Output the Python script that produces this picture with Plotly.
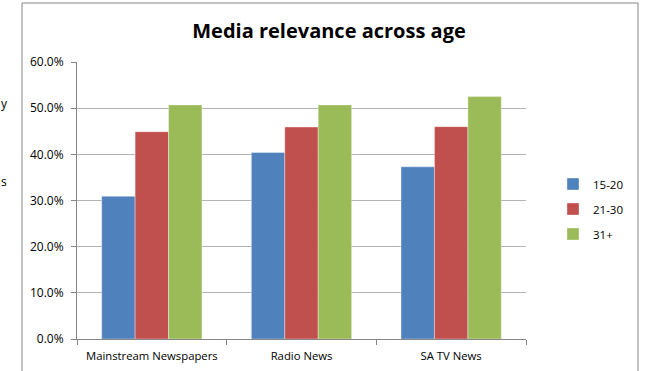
import plotly.graph_objects as go

categories = ["Mainstream Newspapers", "Radio News", "SA TV News"]
series_names = ["15-20", "21-30", "31+"]
values_15_20 = [0.309, 0.404, 0.373]
values_21_30 = [0.449, 0.459, 0.460]
values_31_plus = [0.507, 0.507, 0.525]
colors = ["#4F81BD", "#C0504D", "#9BBB59"]
y_ticks = [0, 0.1, 0.2, 0.3, 0.4, 0.5, 0.6]

W, H = 645, 371
L, R, T, B = 77, 526, 62, 339  # plot area pixels
pw, ph = R - L, B - T

def px_x(x):
    return (x - L) / pw

def px_y(y):
    return (B - y) / ph

FONT = "Open Sans"

fig = go.Figure()
for name, vals, col in zip(series_names, [values_15_20, values_21_30, values_31_plus], colors):
    fig.add_trace(go.Bar(
        x=categories, y=vals, name=name, legendgroup=name,
        marker=dict(color=col, line=dict(color="rgba(255,255,255,0.45)", width=0.8)),
    ))

fig.update_layout(
    width=W, height=H,
    margin=dict(l=L, r=W - R, t=T, b=H - B, pad=0, autoexpand=False),
    paper_bgcolor="white", plot_bgcolor="white",
    barmode="group", bargap=0.33, bargroupgap=0,
    font=dict(family=FONT, size=11, color="#000000"),
    title=dict(text="<b>Media relevance across age</b>", x=px_x(329), xref="paper",
               xanchor="center", y=1 - 31 / H, yref="container", yanchor="middle",
               font=dict(family=FONT, size=20, color="#000000")),
    showlegend=True,
    legend=dict(x=px_x(553), y=px_y(209), xanchor="left", yanchor="middle",
                font=dict(family=FONT, size=11.5), tracegroupgap=6,
                itemwidth=30, bgcolor="rgba(0,0,0,0)"),
    xaxis=dict(showline=True, linecolor="#868686", linewidth=1,
               ticks="outside", tickson="boundaries", ticklen=5, tickcolor="#868686",
               ticklabelstandoff=6,
               showgrid=False, tickfont=dict(family=FONT, size=11.3)),
    yaxis=dict(range=[0, 0.6], tickvals=y_ticks, tickformat=".1%",
               showline=True, linecolor="#868686", linewidth=1,
               ticks="outside", ticklen=5, tickcolor="#868686",
               ticklabelstandoff=5,
               showgrid=True, gridcolor="#B3B3B3", gridwidth=1,
               zeroline=False, tickfont=dict(family=FONT, size=12)),
    shapes=[dict(type="rect", xref="paper", yref="paper",
                 x0=px_x(22), x1=px_x(638), y0=px_y(380), y1=px_y(3),
                 line=dict(color="#868686", width=1), fillcolor="rgba(0,0,0,0)", layer="below")],
    annotations=[
        dict(text="y", xref="paper", yref="paper", x=px_x(0), y=px_y(103),
             xanchor="left", yanchor="middle", showarrow=False, borderpad=0,
             font=dict(family=FONT, size=12, color="#000000")),
        dict(text="s", xref="paper", yref="paper", x=px_x(0), y=px_y(181),
             xanchor="left", yanchor="middle", showarrow=False, borderpad=0,
             font=dict(family=FONT, size=12, color="#000000")),
    ],
)

fig.write_html("out.html")
